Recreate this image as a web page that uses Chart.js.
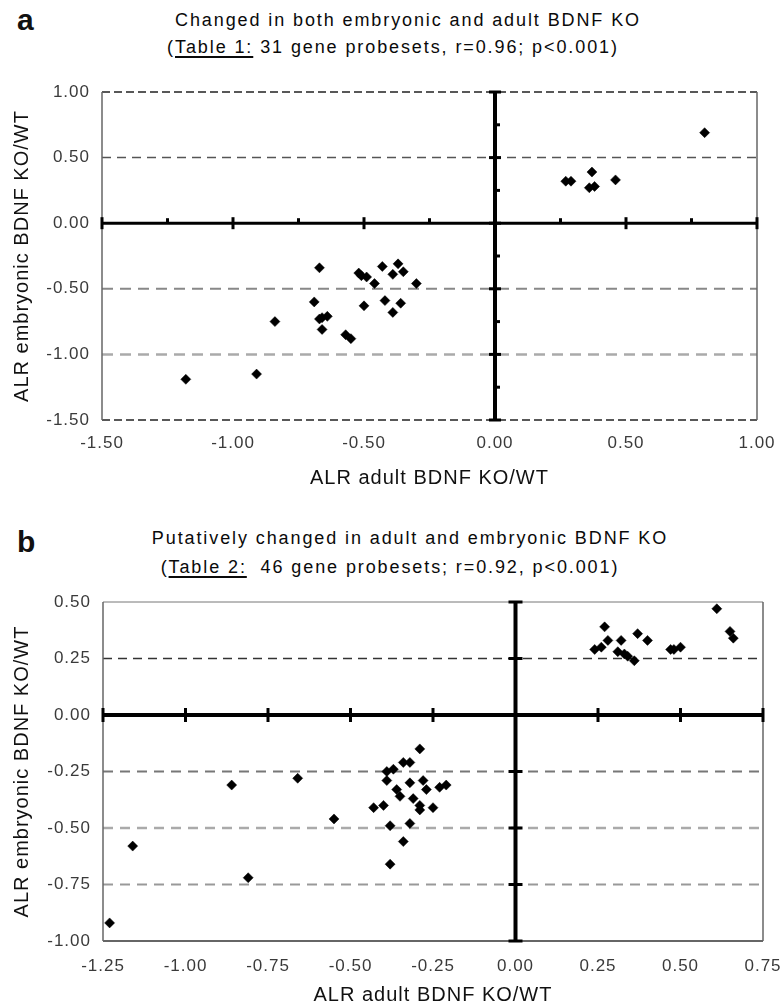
<!DOCTYPE html>
<html>
<head>
<meta charset="utf-8">
<script src="https://cdn.jsdelivr.net/npm/chart.js@4/dist/chart.umd.min.js"></script>
<style>
  body { margin: 0; background: #fff; width: 782px; height: 1007px; position: relative; overflow: hidden;
         font-family: "Liberation Sans", Arial, sans-serif; color: #111; }
  .letter { position: absolute; left: 17px; font-weight: bold; font-size: 30px; line-height: 30px; }
  .ttl { position: absolute; width: 600px; text-align: center; font-size: 18px; line-height: 18px;
         letter-spacing: 1.9px; white-space: pre; color: #0a0a0a; }
  .ttl u { text-decoration-thickness: 2px; text-underline-offset: 3px; }
  canvas { position: absolute; left: 0; }
</style>
</head>
<body>
<div class="letter" style="top:5px">a</div>
<div class="ttl" style="left:108px;top:11px">Changed in both embryonic and adult BDNF KO</div>
<div class="ttl" style="left:93px;top:38px">(<u>Table 1:</u> 31 gene probesets, r=0.96; p&lt;0.001)</div>
<div class="letter" style="top:527px">b</div>
<div class="ttl" style="left:110px;top:529px">Putatively changed in adult and embryonic BDNF KO</div>
<div class="ttl" style="left:90px;top:558px">(<u>Table 2:</u>  46 gene probesets; r=0.92, p&lt;0.001)</div>

<canvas id="chartA" width="782" height="500" style="top:0"></canvas>
<canvas id="chartB" width="782" height="507" style="top:500px"></canvas>

<script>
// panel a: 31 probesets
const aAdult = [-1.18, -0.91, -0.84, -0.67, -0.69, -0.67, -0.64, -0.66, -0.66, -0.57, -0.55, -0.52,
  -0.51, -0.49, -0.50, -0.46, -0.43, -0.39, -0.37, -0.35, -0.30, -0.42, -0.39, -0.36,
  0.27, 0.29, 0.37, 0.36, 0.38, 0.46, 0.80];
const aEmbryonic = [-1.19, -1.15, -0.75, -0.34, -0.60, -0.73, -0.71, -0.72, -0.81, -0.85, -0.88, -0.38,
  -0.40, -0.41, -0.63, -0.46, -0.33, -0.39, -0.31, -0.37, -0.46, -0.59, -0.68, -0.61,
  0.32, 0.32, 0.39, 0.27, 0.28, 0.33, 0.69];

// panel b: 46 probesets
const bAdult = [-1.23, -1.16, -0.86, -0.81, -0.66, -0.55, -0.43, -0.40, -0.39, -0.39, -0.37, -0.34,
  -0.32, -0.29, -0.38, -0.34, -0.38, -0.32, -0.36, -0.35, -0.32, -0.31, -0.29, -0.29, -0.25,
  -0.28, -0.27, -0.23, -0.21,
  0.24, 0.26, 0.27, 0.28, 0.31, 0.32, 0.33, 0.34, 0.36, 0.37, 0.40, 0.47, 0.48, 0.50, 0.61, 0.65, 0.66];
const bEmbryonic = [-0.92, -0.58, -0.31, -0.72, -0.28, -0.46, -0.41, -0.40, -0.25, -0.29, -0.24, -0.21,
  -0.21, -0.15, -0.49, -0.56, -0.66, -0.48, -0.33, -0.36, -0.30, -0.37, -0.40, -0.42, -0.41,
  -0.29, -0.33, -0.32, -0.31,
  0.29, 0.30, 0.39, 0.33, 0.28, 0.33, 0.27, 0.26, 0.24, 0.36, 0.33, 0.29, 0.29, 0.30, 0.47, 0.37, 0.34];

// tick labels
const aXTicks = [-1.5, -1.0, -0.5, 0, 0.5, 1.0];
const aYTicks = [-1.5, -1.0, -0.5, 0, 0.5, 1.0];
const aMinorTicks = [-1.25, -0.75, -0.25, 0.25, 0.75];
const bXTicks = [-1.25, -1.0, -0.75, -0.5, -0.25, 0, 0.25, 0.5, 0.75];
const bYTicks = [-1.0, -0.75, -0.5, -0.25, 0, 0.25, 0.5];

Chart.defaults.font.family = '"Liberation Sans", Arial, sans-serif';

function line(ctx, x1, y1, x2, y2) {
  ctx.beginPath(); ctx.moveTo(x1, y1); ctx.lineTo(x2, y2); ctx.stroke();
}

// dashed grid, side borders and the thick zero axes, all through the scales
const frame = {
  id: 'frame',
  beforeUpdate(chart) { chart.ctx.letterSpacing = '1px'; },
  beforeDraw(chart) { chart.ctx.letterSpacing = '1px'; },
  beforeDatasetsDraw(chart, args, o) {
    const { ctx, chartArea: ca, scales: { x, y } } = chart;
    ctx.save();
    ctx.lineCap = 'butt';
    o.grid.forEach(g => {
      const py = y.getPixelForValue(g.v);
      ctx.strokeStyle = g.color; ctx.lineWidth = g.width; ctx.setLineDash(g.dash);
      line(ctx, ca.left, py, ca.right, py);
    });
    ctx.setLineDash([]);
    ctx.strokeStyle = '#666'; ctx.lineWidth = 1.5;
    line(ctx, ca.left, ca.top, ca.left, ca.bottom);
    line(ctx, ca.right, ca.top, ca.right, ca.bottom);

    const x0 = x.getPixelForValue(0), y0 = y.getPixelForValue(0);
    ctx.strokeStyle = '#000';
    ctx.lineWidth = o.hWidth; line(ctx, ca.left, y0, ca.right, y0);
    ctx.lineWidth = o.vWidth; line(ctx, x0, ca.top, x0, ca.bottom);
    ctx.lineWidth = 3;
    o.xMajor.forEach(v => { const p = x.getPixelForValue(v); line(ctx, p, y0 - o.major, p, y0 + o.major); });
    o.xMinor.forEach(v => { const p = x.getPixelForValue(v); line(ctx, p, y0 - o.minor, p, y0); });
    o.yMajor.forEach(v => { const p = y.getPixelForValue(v); line(ctx, x0 - o.major, p, x0 + o.major, p); });
    o.yMinor.forEach(v => { const p = y.getPixelForValue(v); line(ctx, x0, p, x0 + o.minor, p); });
    ctx.restore();
  }
};

function makePanel(id, cfg) {
  return new Chart(document.getElementById(id), {
    type: 'scatter',
    data: {
      datasets: [{
        data: cfg.xs.map((v, i) => ({ x: v, y: cfg.ys[i] })),
        pointStyle: 'rectRot',
        pointRadius: 5,
        backgroundColor: '#000',
        borderColor: '#000',
        borderWidth: 0.5
      }]
    },
    options: {
      responsive: false,
      animation: false,
      layout: { padding: cfg.padding },
      plugins: { legend: { display: false }, tooltip: { enabled: false }, frame: cfg.frame },
      scales: {
        x: {
          type: 'linear', min: cfg.xTicks[0], max: cfg.xTicks[cfg.xTicks.length - 1],
          afterBuildTicks: s => { s.ticks = cfg.xTicks.map(v => ({ value: v })); },
          afterFit: s => { s.height = cfg.xHeight; s.paddingLeft = 0; s.paddingRight = 0; },
          grid: { display: false, drawTicks: false },
          border: { display: false },
          ticks: { callback: v => v.toFixed(2), color: '#3a3a3a', font: { size: 17 }, padding: cfg.xPad,
                   maxRotation: 0, autoSkip: false },
          title: { display: true, text: 'ALR adult BDNF KO/WT', color: '#111', font: { size: 20 },
                   padding: { top: 0, bottom: cfg.xTitlePad } }
        },
        y: {
          type: 'linear', min: cfg.yTicks[0], max: cfg.yTicks[cfg.yTicks.length - 1],
          afterBuildTicks: s => { s.ticks = cfg.yTicks.map(v => ({ value: v })); },
          afterFit: s => { s.width = cfg.yWidth; s.paddingTop = 0; s.paddingBottom = 0; },
          grid: { display: false, drawTicks: false },
          border: { display: false },
          ticks: { callback: v => v.toFixed(2), color: '#3a3a3a', font: { size: 17 }, padding: 12, autoSkip: false },
          title: { display: true, text: 'ALR embryonic BDNF KO/WT', color: '#111', font: { size: 20 },
                   padding: { top: 10, bottom: 0 } }
        }
      }
    },
    plugins: [frame]
  });
}

makePanel('chartA', {
  xs: aAdult, ys: aEmbryonic, xTicks: aXTicks, yTicks: aYTicks,
  padding: { top: 92, right: 25, bottom: 0, left: 0 },
  xHeight: 80, yWidth: 102, xPad: 13, xTitlePad: 10,
  frame: {
    grid: [
      { v: 1.0, color: '#222', width: 1.5, dash: [8, 4] },
      { v: 0.5, color: '#555', width: 1.5, dash: [9, 6] },
      { v: -0.5, color: '#888', width: 2, dash: [11, 7] },
      { v: -1.0, color: '#aaa', width: 2.5, dash: [11, 7] },
      { v: -1.5, color: '#222', width: 1.5, dash: [8, 4] }
    ],
    hWidth: 3, vWidth: 4, major: 6, minor: 5,
    xMajor: aXTicks, xMinor: aMinorTicks, yMajor: aYTicks, yMinor: aMinorTicks
  }
});

makePanel('chartB', {
  xs: bAdult, ys: bEmbryonic, xTicks: bXTicks, yTicks: bYTicks,
  padding: { top: 102, right: 19, bottom: 0, left: 0 },
  xHeight: 66, yWidth: 103, xPad: 15, xTitlePad: 0,
  frame: {
    grid: [
      { v: 0.5, color: '#777', width: 1, dash: [] },
      { v: 0.25, color: '#333', width: 1.5, dash: [9, 6] },
      { v: -0.25, color: '#777', width: 2, dash: [10, 7] },
      { v: -0.5, color: '#aaa', width: 2.5, dash: [10, 7] },
      { v: -0.75, color: '#999', width: 2, dash: [10, 7] },
      { v: -1.0, color: '#333', width: 1.5, dash: [] }
    ],
    hWidth: 4, vWidth: 4, major: 7, minor: 0,
    xMajor: bXTicks, xMinor: [], yMajor: bYTicks, yMinor: []
  }
});
</script>
</body>
</html>
